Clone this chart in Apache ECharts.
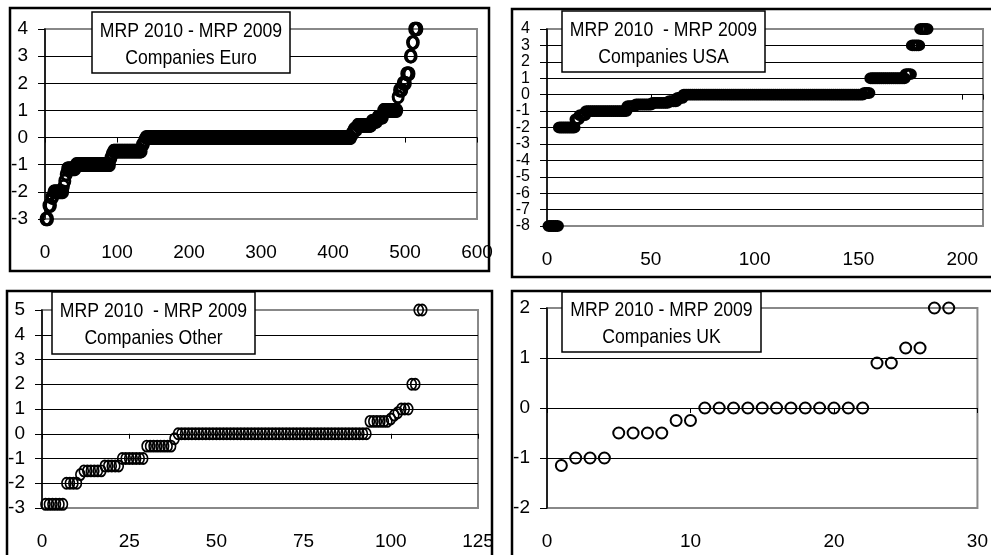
<!DOCTYPE html>
<html>
<head>
<meta charset="utf-8">
<script src="https://cdn.jsdelivr.net/npm/echarts@6/dist/echarts.min.js"></script>
<style>
  html, body { margin: 0; padding: 0; background: #fff; }
  #main { width: 991px; height: 555px; }
</style>
</head>
<body>
<div id="main"></div>
<script>
// sorted differences MRP 2010 - MRP 2009, stored as (value, how many companies)
var euroValues = [-3, -2.5, -2.2, -2, -1.8, -1.6, -1.35, -1.15, -1, -0.75, -0.6, -0.5, -0.25, -0.1, 0, 0.15, 0.3, 0.45, 0.6, 0.75, 1, 1.5, 1.75, 2, 2.35, 3, 3.5, 4];
var euroCounts = [4, 4, 3, 14, 1, 2, 2, 12, 48, 2, 2, 40, 3, 2, 286, 3, 5, 20, 8, 8, 20, 2, 5, 5, 5, 3, 3, 5];

var usaValues = [-8, -2, -1.5, -1.25, -1, -0.7, -0.6, -0.5, -0.4, -0.2, 0, 0.1, 1, 1.25, 3, 4];
var usaCounts = [5, 8, 2, 3, 20, 4, 8, 8, 4, 3, 87, 3, 17, 3, 4, 4];

var otherValues = [-2.85, -2, -1.65, -1.5, -1.3, -1, -0.5, -0.2, 0, 0.5, 0.6, 0.75, 0.85, 1, 2, 5];
var otherCounts = [6, 4, 1, 6, 5, 7, 8, 1, 55, 6, 1, 1, 1, 3, 2, 2];

var ukValues = [-1.15, -1, -1, -1, -0.5, -0.5, -0.5, -0.5, -0.25, -0.25, 0, 0, 0, 0, 0, 0, 0, 0, 0, 0, 0, 0, 0.9, 0.9, 1.2, 1.2, 2, 2];

var titles = [
    'MRP 2010 - MRP 2009\nCompanies Euro',
    'MRP 2010  - MRP 2009\nCompanies USA',
    'MRP 2010  - MRP 2009\nCompanies Other',
    'MRP 2010 - MRP 2009\nCompanies UK'
];

function expand(values, counts) {
    var out = [];
    var rank = 1;
    for (var i = 0; i < values.length; i++) {
        for (var k = 0; k < counts[i]; k++) {
            out.push([rank++, values[i]]);
        }
    }
    return out;
}

function ranked(values) {
    return values.map(function (v, i) { return [i + 1, v]; });
}

var FONT = '"Liberation Sans", Arial, sans-serif';

var panels = [
    { grid: { left: 45, top: 29, width: 432, height: 190 }, xMax: 600, xStep: 100, yMin: -3, yMax: 4,
      data: expand(euroValues, euroCounts), size: [10, 12], bw: 2.5, yFont: 19, yLine: 22 },
    { grid: { left: 547, top: 29, width: 436, height: 197 }, xMax: 210, xStep: 50, yMin: -8, yMax: 4,
      data: expand(usaValues, usaCounts), size: [10, 9], bw: 3, yFont: 16, yLine: 13 },
    { grid: { left: 42, top: 310, width: 436, height: 198 }, xMax: 125, xStep: 25, yMin: -3, yMax: 5,
      data: expand(otherValues, otherCounts), size: [9, 11], bw: 1.8, yFont: 19, yLine: 22 },
    { grid: { left: 547, top: 308, width: 443, height: 200 }, xMax: 30, xStep: 10, yMin: -2, yMax: 2,
      data: ranked(ukValues), size: 11, bw: 2, yFont: 19, yLine: 22 }
];

var option = {
    animation: false,
    backgroundColor: '#fff',
    textStyle: { fontFamily: FONT },
    grid: [],
    xAxis: [],
    yAxis: [],
    series: [],
    graphic: []
};

panels.forEach(function (p, i) {
    option.grid.push(Object.assign({ show: true, borderColor: '#888', borderWidth: 2, backgroundColor: '#fff' }, p.grid));
    // labels along the bottom of the plot area
    option.xAxis.push({
        gridIndex: i, type: 'value', position: 'bottom', min: 0, max: p.xMax, interval: p.xStep,
        axisLine: { show: false, onZero: false }, axisTick: { show: false }, splitLine: { show: false },
        axisLabel: {
            margin: 24, fontSize: 19, color: '#000', fontFamily: FONT,
            formatter: function (v) { return v % p.xStep === 0 ? v : ''; }
        }
    });
    // axis line crossing at zero, with ticks
    option.xAxis.push({
        gridIndex: i, type: 'value', position: 'top', min: 0, max: p.xMax, interval: p.xStep,
        axisLine: { show: true, onZero: true, lineStyle: { color: '#000', width: 1 } },
        axisTick: { show: true, inside: true, length: 5, lineStyle: { color: '#000' } },
        axisLabel: { show: false }, splitLine: { show: false }
    });
    option.yAxis.push({
        gridIndex: i, type: 'value', min: p.yMin, max: p.yMax, interval: 1,
        axisLine: { show: true, onZero: false, lineStyle: { color: '#000', width: 1.5 } },
        axisTick: { show: true, length: 7, lineStyle: { color: '#000' } },
        axisLabel: { margin: 17, fontSize: p.yFont, lineHeight: p.yLine, color: '#000', fontFamily: FONT,
                     showMinLabel: true, showMaxLabel: true, hideOverlap: false },
        splitLine: { show: true, showMinLine: false, showMaxLine: false, lineStyle: { color: '#000', width: 1 } }
    });
    option.series.push({
        type: 'scatter', xAxisIndex: 2 * i + 1, yAxisIndex: i,
        data: p.data, symbol: 'circle', symbolSize: p.size,
        itemStyle: { color: 'rgba(0,0,0,0)', borderColor: '#000', borderWidth: p.bw, opacity: 1 },
        z: 5
    });
});

// panel frames
[[10, 8, 479, 263], [512, 9, 490, 268], [7, 291, 485, 275], [512, 291, 490, 275]].forEach(function (r) {
    option.graphic.push({
        type: 'rect', shape: { x: r[0], y: r[1], width: r[2], height: r[3] },
        style: { fill: 'none', stroke: '#000', lineWidth: 2.5 }, z: 100
    });
});

// title boxes (narrow text, like the original)
[[92, 12, 198, 61], [562, 11, 203, 61], [52, 292, 203, 62], [562, 292, 199, 60]].forEach(function (b, i) {
    option.graphic.push({
        type: 'rect', shape: { x: b[0], y: b[1], width: b[2], height: b[3] },
        style: { fill: '#fff', stroke: '#000', lineWidth: 1.5 }, z: 101
    });
    option.graphic.push({
        type: 'text', x: b[0] + b[2] / 2, y: b[1] + b[3] / 2 + 2, scaleX: 0.84, z: 102,
        style: {
            text: titles[i], align: 'center', verticalAlign: 'middle',
            font: '21px ' + FONT, lineHeight: 27, fill: '#000'
        }
    });
});

var chart = echarts.init(document.getElementById('main'), null, { renderer: 'canvas' });
chart.setOption(option);
</script>
</body>
</html>
